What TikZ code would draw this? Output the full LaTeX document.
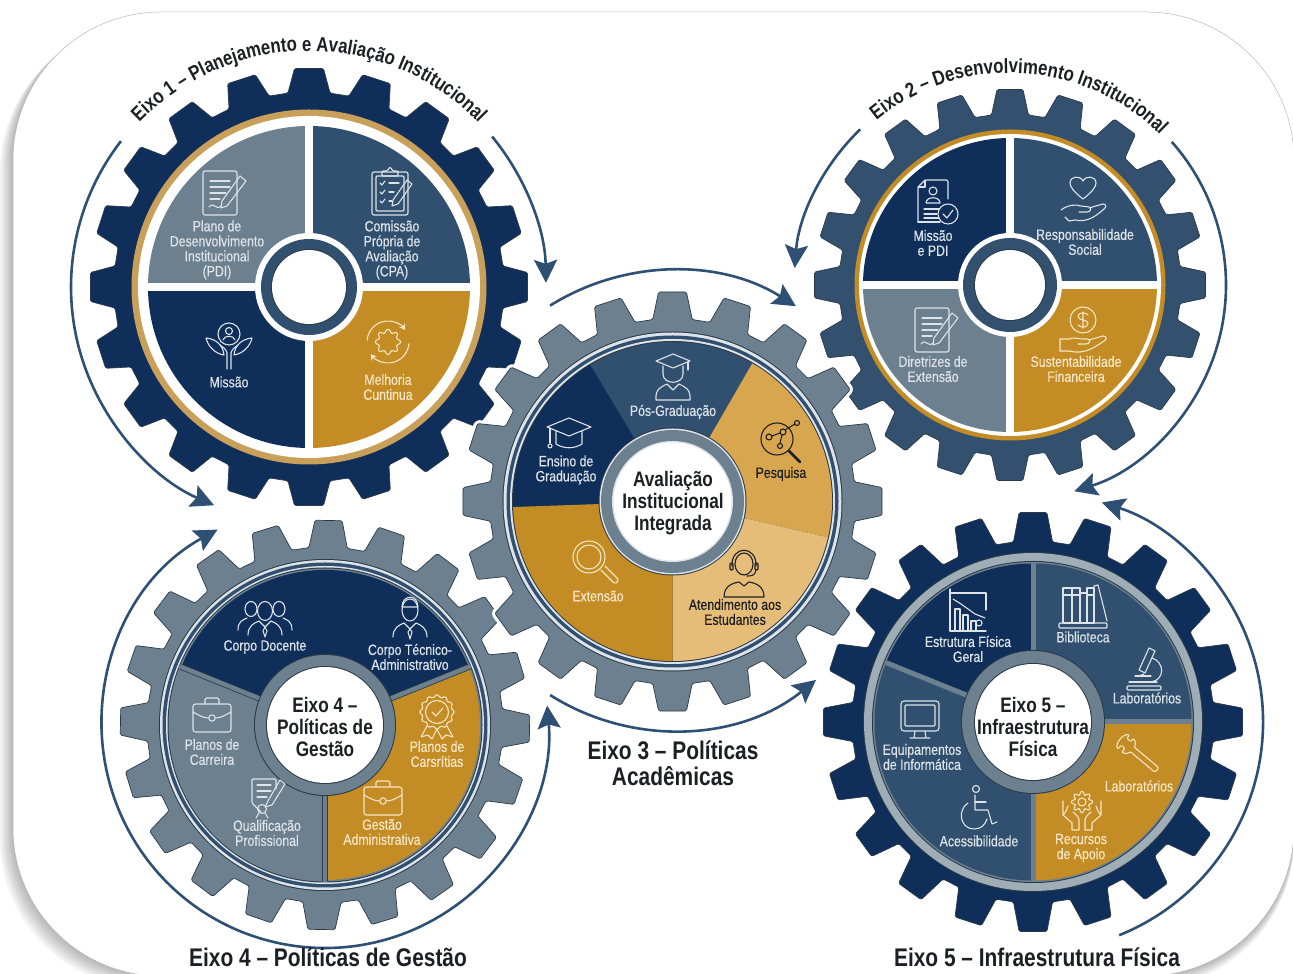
\documentclass[tikz,border=0pt]{standalone}
\usepackage{fontspec}
\setmainfont[FakeStretch=0.82]{Liberation Sans}
\newfontfamily\medfam[FakeStretch=0.82,FakeBold=0.45]{Liberation Sans}
\usetikzlibrary{arrows.meta,decorations.text}
\definecolor{navy}{HTML}{0F2E59}
\definecolor{steel}{HTML}{31506F}
\definecolor{slate}{HTML}{34506F}
\definecolor{greyb}{HTML}{6C808F}
\definecolor{gold}{HTML}{C48C24}
\definecolor{goldb}{HTML}{D9A650}
\definecolor{goldc}{HTML}{E6BD78}
\definecolor{ringg}{HTML}{C9A05A}
\definecolor{edge}{HTML}{2B3A48}
\definecolor{ink}{HTML}{1C2024}
\definecolor{arrowc}{HTML}{2F5075}
\definecolor{lite}{HTML}{DDE3E8}
\definecolor{creme}{HTML}{F4E6C6}
\newcommand{\lblfont}{\medfam\fontsize{15}{15}\selectfont}
\newcommand{\arcfont}{\bfseries\fontsize{20.5}{22}\selectfont}
\newcommand{\hubfont}{\bfseries\fontsize{21}{22}\selectfont}
\newcommand{\capfont}{\bfseries\fontsize{25.5}{26}\selectfont}
\newcommand{\gearbody}[4]{%
  \draw[#4] ({#3-6.2}:#2) -- ({#3-3.8}:#1) -- ({#3+3.8}:#1) -- ({#3+6.2}:#2)
  \foreach \k [evaluate=\k as \a using #3+18*\k] in {1,...,19}
    { -- ({\a-6.2}:#2) -- ({\a-3.8}:#1) -- ({\a+3.8}:#1) -- ({\a+6.2}:#2) } -- cycle;}
\newcommand{\sect}[4]{\fill[#4] (0,0) -- (#1:#3) arc[start angle=#1,end angle=#2,radius=#3] -- cycle;}
\newcommand{\divd}[3]{\draw[#3] (0,0) -- (#1:#2);}
\tikzset{
  gearshape/.style={fill=#1,draw=edge,line width=.7pt,rounded corners=1.5pt,line join=round},
  halo/.style={draw=white,line width=7pt,rounded corners=1.5pt,line join=round},
  flow/.style={draw=arrowc,line width=2.6pt,-{Stealth[length=23pt,width=23pt,inset=4pt]}},
  flowboth/.style={draw=arrowc,line width=2.6pt,{Stealth[length=23pt,width=23pt,inset=4pt]}-{Stealth[length=23pt,width=23pt,inset=4pt]}},
  lbl/.style={align=center,font=\lblfont,inner sep=0pt,text=#1},
  hubtxt/.style={align=center,font=\hubfont,inner sep=0pt,text=ink},
  captxt/.style={align=center,font=\capfont,inner sep=0pt,text=ink},
  icon/.style={color=#1,line width=1.1pt,line cap=round,line join=round},
  pics/docpen/.style={code={
    \draw[rounded corners=2] (-20,-22) rectangle (14,22);
    \draw (-13,12) -- (7,12) (-13,6) -- (7,6) (-13,0) -- (3,0) (-13,-6) -- (-3,-6);
    \draw (-14,-14) .. controls (-9,-8) and (-7,-18) .. (-2,-13);
    \draw (-2,-15) -- (-1,-8) -- (17,17) -- (23,12) -- (4,-13) -- cycle;
  }},
  pics/clipb/.style={code={
    \draw[rounded corners=2] (-18,-23) rectangle (18,20);
    \draw[rounded corners=1] (-14,-19) rectangle (14,16);
    \draw[rounded corners=1] (-8,16) -- (-8,21) -- (-3,21) -- (0,25) -- (3,21) -- (8,21) -- (8,16) -- cycle;
    \draw (-10,9) -- (-8,7) -- (-5,11) (-10,0) -- (-8,-2) -- (-5,2) (-10,-9) -- (-8,-11) -- (-5,-7);
    \draw (-1,9) -- (9,9) (-1,0) -- (4,0) (-1,-9) -- (2,-9);
    \draw (2,-14) -- (3,-8) -- (17,12) -- (22,8) -- (8,-12) -- cycle;
  }},
  pics/carehands/.style={code={
    \draw (0,11) circle (11);
    \draw (0,14) circle (3.5);
    \draw (-6,5) .. controls (-5,10) and (5,10) .. (6,5);
    \draw (-2,-24) -- (-2,-8) .. controls (-3,-4) and (-6,-2) .. (-9,0);
    \draw (2,-24) -- (2,-8) .. controls (3,-4) and (6,-2) .. (9,0);
    \draw (-5,-10) .. controls (-13,-9) and (-21,-2) .. (-23,7) .. controls (-13,6) and (-6,0) .. (-5,-10);
    \draw (5,-10) .. controls (13,-9) and (21,-2) .. (23,7) .. controls (13,6) and (6,0) .. (5,-10);
  }},
  pics/cyclegear/.style={code={
    \draw[domain=0:360,samples=97,smooth] plot (\x:{11+1.6*cos(8*\x)}) -- cycle;
    \draw[-{Stealth[length=6pt,width=7pt]}] (175:21) arc[start angle=175,end angle=35,radius=21];
    \draw[-{Stealth[length=6pt,width=7pt]}] (-5:21) arc[start angle=-5,end angle=-145,radius=21];
  }},
  pics/docperson/.style={code={
    \draw[rounded corners=1.5] (-18,-20) -- (-18,15) -- (-11,22) -- (12,22) -- (12,3);
    \draw (-18,15) -- (-11,15) -- (-11,22);
    \draw (-18,-20) -- (4,-20);
    \draw (-3,11) circle (4);
    \draw (-10,-1) .. controls (-10,6) and (4,6) .. (4,-1) -- cycle;
    \draw (-12,-7) -- (3,-7) (-12,-12) -- (1,-12) (-12,-16) -- (3,-16);
    \draw (12,-12) circle (10);
    \draw (7,-12) -- (11,-16) -- (17,-8);
  }},
  pics/hearthand/.style={code={
    \draw (0,4) .. controls (-9,11) and (-13,16) .. (-13,20) .. controls (-13,27) and (-3,28) .. (0,22) .. controls (3,28) and (13,27) .. (13,20) .. controls (13,16) and (9,11) .. (0,4) -- cycle;
    \draw (-22,-7) .. controls (-15,-2) and (-8,-1) .. (-2,-3) -- (6,-4) .. controls (9,-5) and (8,-9) .. (4,-9) -- (-4,-9);
    \draw (6,-5) -- (20,-1) .. controls (23,-1) and (24,-4) .. (21,-6) .. controls (14,-12) and (5,-20) .. (-8,-17) -- (-14,-18) -- (-18,-14);
  }},
  pics/coinhand/.style={code={
    \draw (0,10) circle (13);
    \draw (5,15) .. controls (3,18) and (-5,18) .. (-5,13.5) .. controls (-5,9) and (5,11) .. (5,6.5) .. controls (5,2) and (-3,2) .. (-5,5) (0,2) -- (0,18);
    \draw (-23,-21) -- (-23,-9) -- (-14,-9) .. controls (-9,-7) and (-5,-9) .. (0,-9) -- (5,-9) .. controls (8,-10) and (7,-14) .. (3,-14) -- (-5,-14);
    \draw (6,-10) -- (20,-6) .. controls (24,-6) and (24,-10) .. (21,-11) .. controls (12,-17) and (2,-25) .. (-14,-21) -- (-23,-21);
  }},
  pics/gradcap/.style={code={
    \draw (-22,8) -- (0,17) -- (22,8) -- (0,-1) -- cycle;
    \draw (-13,4) -- (-13,-9) .. controls (-5,-14) and (5,-14) .. (13,-9) -- (13,4);
    \draw (-19,7) -- (-19,-8);
    \draw (-19,-11) circle (2);
  }},
  pics/graduate/.style={code={
    \draw (-17,16) -- (0,23) -- (17,16) -- (0,9) -- cycle;
    \draw (-10,11) -- (-10,3) .. controls (-10,-8) and (10,-8) .. (10,3) -- (10,11);
    \draw (15,15) -- (15,7);
    \draw (-17,-23) .. controls (-18,-12) and (-12,-10) .. (-6,-7) -- (0,-13) -- (6,-7) .. controls (12,-10) and (18,-12) .. (17,-23) -- cycle;
  }},
  pics/molmag/.style={code={
    \draw (-3,3) circle (16);
    \draw[line width=2.6pt] (9,-9) -- (20,-20);
    \draw (-11,5) circle (3) (0,-4) circle (2.5) (3,10) circle (3) (17,19) circle (2.5);
    \draw (-8,6) -- (0,9) (2,7) -- (0,-1) (5,12) -- (15,18);
  }},
  pics/magn/.style={code={
    \draw (-6,6) circle (16) (-6,6) circle (12);
    \draw[rounded corners=1.5] (6,-7) -- (20,-21) -- (24,-17) -- (10,-3);
  }},
  pics/headset/.style={code={
    \draw (0,9) ellipse (9 and 11);
    \draw (-12,7) .. controls (-13,28) and (13,28) .. (12,7);
    \draw[rounded corners=1] (-14,3) rectangle (-11,10) (11,3) rectangle (14,10);
    \draw (12,3) .. controls (11,-3) and (7,-3) .. (3,-3);
    \draw (-20,-24) .. controls (-20,-12) and (-10,-10) .. (-5,-9) -- (0,-13) -- (5,-9) .. controls (10,-10) and (20,-12) .. (20,-24) -- cycle;
  }},
  pics/team/.style={code={
    \draw (-14,9) ellipse (6 and 7.5) (14,9) ellipse (6 and 7.5);
    \draw (-27,-12) .. controls (-27,-3) and (-22,-2) .. (-18,0) (27,-12) .. controls (27,-3) and (22,-2) .. (18,0);
    \draw (0,7) ellipse (7.5 and 9.5);
    \draw (-17,-17) .. controls (-17,-8) and (-11,-5) .. (-6,-3) -- (0,-9) -- (6,-3) .. controls (11,-5) and (17,-8) .. (17,-17);
    \draw (0,-9) -- (-2,-13) -- (0,-19) -- (2,-13) -- cycle;
  }},
  pics/tieperson/.style={code={
    \draw (0,10) ellipse (8 and 11);
    \draw (-8,13) .. controls (-8,26) and (8,26) .. (8,13) -- cycle;
    \draw (-17,-17) .. controls (-17,-8) and (-11,-5) .. (-6,-3) -- (0,-9) -- (6,-3) .. controls (11,-5) and (17,-8) .. (17,-17);
    \draw (0,-9) -- (-2,-12) -- (0,-19) -- (2,-12) -- cycle;
  }},
  pics/briefc/.style={code={
    \draw[rounded corners=2.5] (-19,-17) rectangle (19,11);
    \draw[rounded corners=1.5] (-7,11) -- (-7,17) -- (7,17) -- (7,11);
    \draw (-19,3) .. controls (-12,-1) and (-8,-3) .. (-3.5,-3) (3.5,-3) .. controls (8,-3) and (12,-1) .. (19,3);
    \draw (0,-3) circle (3.2);
  }},
  pics/rosette/.style={code={
    \draw[domain=0:360,samples=145,smooth] plot (\x:{16+1.1*cos(12*\x)}) -- cycle;
    \draw (0,0) circle (11.5);
    \draw (-5,0) -- (-1,-4) -- (6,4);
    \draw (-10,-14) -- (-16,-25) -- (-9,-23) -- (-5,-27) -- (0,-17) -- (5,-27) -- (9,-23) -- (16,-25) -- (10,-14);
  }},
  pics/certpen/.style={code={
    \draw[rounded corners=1] (-7,-13) -- (-16,-4) -- (-16,20) -- (8,20) -- (8,10);
    \draw (-11,14) -- (3,14) (-11,8) -- (3,8) (-11,2) -- (-1,2);
    \draw (-3,-8) -- (0,-2) -- (12,19) -- (17,15) -- (4,-6) -- cycle;
    \draw (-6,-10) circle (4.5);
    \draw (-9,-14) -- (-12,-19) (-3,-14) -- (0,-19);
  }},
  pics/books/.style={code={
    \draw (-20,-16) rectangle (-11,19) (-11,-16) rectangle (-3,19) (-3,-16) rectangle (4,14) (4,-16) rectangle (11,19);
    \draw (11,-16) -- (11,21) -- (15,22) -- (24,-14);
    \draw (-20,12) -- (-11,12) (-11,12) -- (-3,12) (4,12) -- (11,12);
    \draw[rounded corners=1] (-24,-16) rectangle (24,-21);
  }},
  pics/micro/.style={code={
    \draw (-6,-2) -- (4,20) -- (10,17) -- (0,-5) -- cycle;
    \draw (-6,-8) -- (-1,-6);
    \draw (7,10) .. controls (20,6) and (20,-12) .. (6,-14);
    \draw (-16,-14) -- (12,-14);
    \draw[rounded corners=1] (-18,-22) rectangle (16,-18);
    \draw (-10,-8) -- (6,-8);
  }},
  pics/chartic/.style={code={
    \draw (-18,23) -- (-18,-19) -- (18,-19);
    \draw (-18,19) -- (18,19) -- (18,2);
    \draw (-13,-19) -- (-13,3) -- (-8,3) -- (-8,-19) (-5,-19) -- (-5,-3) -- (0,-3) -- (0,-19) (3,-19) -- (3,-9) -- (8,-9) -- (8,-19);
    \draw (-15,13) -- (-7,8) -- (0,3) -- (7,-2) -- (17,-6);
    \draw (11,-11) circle (3);
  }},
  pics/monitor/.style={code={
    \draw[rounded corners=3] (-19,-11) rectangle (19,19);
    \draw[rounded corners=1] (-15,-6) rectangle (15,15);
    \draw (-5,-11) -- (-6,-18) (5,-11) -- (6,-18) (-10,-18) -- (10,-18);
  }},
  pics/wheel/.style={code={
    \draw (-3,21) circle (3.5);
    \draw (-4,15) -- (-4,0) -- (9,0) -- (13,-14) -- (18,-12);
    \draw (-4,8) -- (7,8);
    \draw (-11,7) .. controls (-22,0) and (-19,-19) .. (-5,-19) .. controls (2,-19) and (6,-15) .. (8,-9);
  }},
  pics/wrench/.style={code={
    \draw[rotate=-40,rounded corners=1] (-20,5) -- (-20,9) .. controls (-26,7) and (-26,-7) .. (-20,-9) -- (-20,-4) -- (-15,-4) -- (-15,-9) .. controls (-10,-8) and (-9,-4) .. (-9,-3) -- (21,-3) .. controls (24,-3) and (24,3) .. (21,3) -- (-9,3) .. controls (-9,4) and (-10,8) .. (-15,9) -- (-15,5) -- cycle;
  }},
  pics/gearhands/.style={code={
    \begin{scope}[shift={(0,9)}]
    \draw[domain=0:360,samples=97,smooth] plot (\x:{9+1.7*cos(8*\x)}) -- cycle;
    \draw (0,0) circle (4);
    \end{scope}
    \draw (-19,10) -- (-19,-4) -- (-10,-12) -- (-10,-19) -- (-3,-19) -- (-3,-9) .. controls (-3,-6) and (-6,-4) .. (-9,-1);
    \draw (-19,-4) .. controls (-16,-1) and (-15,2) .. (-14,5);
    \draw (19,10) -- (19,-4) -- (10,-12) -- (10,-19) -- (3,-19) -- (3,-9) .. controls (3,-6) and (6,-4) .. (9,-1);
    \draw (19,-4) .. controls (16,-1) and (15,2) .. (14,5);
  }},
}
\begin{document}
\begin{tikzpicture}[x=1pt,y=1pt]
\useasboundingbox (0,0) rectangle (1293,974);
\clip (0,0) rectangle (1293,974);
% card and its shadow
\fill[white] (0,0) rectangle (1293,974);
\foreach \s in {13,11,...,1}
  \fill[black,opacity=.045,rounded corners=148pt] ({13-\s},{-2-\s*0.9}) rectangle (1294,{962-\s*0.9});
\filldraw[fill=white,draw=black!28,line width=.5pt,rounded corners=148pt] (13,-2) rectangle (1294,962);
% centres
\coordinate (g1) at (309,974-287);
\coordinate (g2) at (1010,974-285);
\coordinate (g3) at (672.5,974-501.5);
\coordinate (g4) at (325,974-725);
\coordinate (g5) at (1033,974-722);
% ---------- gear 5
\begin{scope}[shift={(g5)}]
  \gearbody{210}{181}{0}{gearshape=navy}
  \fill[edge] (0,0) circle (170);
  \fill[lite!45!greyb] (0,0) circle (169);
  \fill[edge] (0,0) circle (161);
  \fill[greyb] (0,0) circle (160);
  \sect{90}{158}{158.5}{navy}
  \sect{0}{90}{158.5}{steel}
  \sect{158}{270}{158.5}{steel}
  \sect{-90}{0}{158.5}{gold}
  \divd{90}{159}{greyb,line width=5pt}
  \divd{0}{159}{greyb,line width=5pt}
  \divd{-90}{159}{greyb,line width=5pt}
  \divd{158}{159}{greyb,line width=5pt}
  \fill[edge] (0,0) circle (72);
  \fill[greyb] (0,0) circle (71);
  \fill[edge] (0,0) circle (59);
  \fill[white] (0,0) circle (58);
\end{scope}
% ---------- gear 4
\begin{scope}[shift={(g4)}]
  \gearbody{205}{178}{-1}{gearshape=greyb}
  \fill[edge] (0,0) circle (166);
  \fill[lite] (0,0) circle (165);
  \fill[steel] (0,0) circle (162.5);
  \fill[lite] (0,0) circle (159);
  \fill[edge] (0,0) circle (157.5);
  \fill[greyb] (0,0) circle (156.5);
  \sect{22}{158}{155}{navy}
  \sect{158}{270}{155}{greyb}
  \sect{-90}{22}{155}{gold}
  \divd{22}{156}{edge,line width=6pt}
  \divd{158}{156}{edge,line width=6pt}
  \divd{-90}{156}{edge,line width=6pt}
  \divd{22}{157}{greyb,line width=4.4pt}
  \divd{158}{157}{greyb,line width=4.4pt}
  \divd{-90}{157}{greyb,line width=4.4pt}
  \fill[edge] (0,0) circle (71);
  \fill[greyb] (0,0) circle (70);
  \fill[edge] (0,0) circle (59);
  \fill[white] (0,0) circle (58);
\end{scope}
% ---------- gear 1
\begin{scope}[shift={(g1)}]
  \gearbody{219}{195}{0}{gearshape=navy}
  \fill[ringg] (0,0) circle (177.5);
  \fill[white] (0,0) circle (171);
  \sect{90}{180}{161}{greyb}
  \sect{0}{90}{161}{steel}
  \sect{180}{270}{161}{navy}
  \sect{-90}{0}{161}{gold}
  \divd{0}{163}{white,line width=8pt}
  \divd{90}{163}{white,line width=8pt}
  \divd{180}{163}{white,line width=8pt}
  \divd{270}{163}{white,line width=8pt}
  \fill[white] (0,0) circle (54);
  \fill[steel] (0,0) circle (48);
  \fill[edge] (0,0) circle (38);
  \fill[white] (0,0) circle (37);
\end{scope}
% ---------- gear 2
\begin{scope}[shift={(g2)}]
  \gearbody{196}{171}{0}{gearshape=slate}
  \fill[gold] (0,0) circle (155.5);
  \fill[white] (0,0) circle (151);
  \sect{90}{180}{147}{navy}
  \sect{0}{90}{147}{steel}
  \sect{180}{270}{147}{greyb}
  \sect{-90}{0}{147}{gold}
  \divd{0}{149}{white,line width=8pt}
  \divd{90}{149}{white,line width=8pt}
  \divd{180}{149}{white,line width=8pt}
  \divd{270}{149}{white,line width=8pt}
  \fill[white] (0,0) circle (52);
  \fill[slate] (0,0) circle (47);
  \fill[edge] (0,0) circle (36);
  \fill[white] (0,0) circle (35);
\end{scope}
% ---------- gear 3 (on top, with a white halo)
\begin{scope}[shift={(g3)}]
  \gearbody{210}{183}{0}{halo}
  \gearbody{210}{183}{0}{gearshape=greyb}
  \fill[edge] (0,0) circle (170);
  \fill[lite] (0,0) circle (169);
  \fill[steel] (0,0) circle (166);
  \fill[lite] (0,0) circle (162.5);
  \fill[edge] (0,0) circle (160.5);
  \sect{121}{182}{159.5}{navy}
  \sect{60}{121}{159.5}{steel}
  \sect{-13}{60}{159.5}{goldb}
  \sect{-90}{-13}{159.5}{goldc}
  \sect{182}{270}{159.5}{gold}
  \fill[edge] (0,0) circle (74);
  \fill[lite] (0,0) circle (73);
  \fill[greyb] (0,0) circle (71.5);
  \fill[lite] (0,0) circle (60.5);
  \fill[white] (0,0) circle (59);
\end{scope}
% ---------- arrows
\draw[flow] ([shift={(g1)}]142.2:238) arc[start angle=142.2,end angle=246.5,radius=238];
\draw[flow] ([shift={(g1)}]39.4:237) arc[start angle=39.4,end angle=1,radius=237];
\draw[flow] ([shift={(g2)}]41.5:216) arc[start angle=41.5,end angle=-72.7,radius=216];
\draw[flow] ([shift={(g2)}]133.9:216) arc[start angle=133.9,end angle=175.5,radius=216];
\draw[flow] ([shift={(g3)}]122:231) arc[start angle=122,end angle=57.7,radius=231];
\draw[flow] ([shift={(g3)}]237.7:229) arc[start angle=237.7,end angle=308.8,radius=229];
\draw[flowboth] ([shift={(g4)}]118.8:223) arc[start angle=118.8,end angle=365,radius=223];
\draw[flow] ([shift={(g5)}]-68:230) arc[start angle=-68,end angle=72.6,radius=230];
% ---------- curved titles
\path[decorate,decoration={text along path,text align=center,text color=ink,
  text={|\arcfont|Eixo 1 – Planejamento e Avaliação Institucional}}]
  ([shift={(g1)}]141:236) arc[start angle=141,end angle=39,radius=236];
\path[decorate,decoration={text along path,text align=center,text color=ink,
  text={|\arcfont|Eixo 2 – Desenvolvimento Institucional}}]
  ([shift={(g2)}]133:212) arc[start angle=133,end angle=41,radius=212];
% ---------- icons gear 1
\pic[icon=lite] at (223,974-193) {docpen};
\pic[icon=lite] at (390,974-192) {clipb};
\pic[icon=lite] at (229,974-345) {carehands};
\pic[icon=creme] at (388,974-342) {cyclegear};
% icons gear 2
\pic[icon=lite] at (936,974-202) {docperson};
\pic[icon=lite] at (1083,974-203) {hearthand};
\pic[icon=lite] at (935,974-330) {docpen};
\pic[icon=creme] at (1083,974-330) {coinhand};
% icons gear 3
\pic[icon=lite] at (569,974-435) {gradcap};
\pic[icon=lite] at (673,974-377) {graduate};
\pic[icon=ink] at (780,974-442) {molmag};
\pic[icon=creme] at (595,974-563) {magn};
\pic[icon=ink] at (744,974-573) {headset};
% icons gear 4
\pic[icon=lite] at (265,974-618) {team};
\pic[icon=lite] at (410,974-620) {tieperson};
\pic[icon=lite] at (212,974-715) {briefc};
\pic[icon=creme] at (437,974-712) {rosette};
\pic[icon=lite] at (268,974-799) {certpen};
\pic[icon=creme] at (383,974-798) {briefc};
% icons gear 5
\pic[icon=lite] at (968,974-612) {chartic};
\pic[icon=lite] at (1083,974-607) {books};
\pic[icon=lite] at (1145,974-668) {micro};
\pic[icon=lite] at (920,974-720) {monitor};
\pic[icon=lite] at (979,974-810) {wheel};
\pic[icon=creme] at (1139,974-755) {wrench};
\pic[icon=creme] at (1082,974-811) {gearhands};
% ---------- labels gear 1
\node[lbl=lite] (a1) at (217,974-250) {Plano de\\Desenvolvimento\\Institucional\\(PDI)};
\node[lbl=lite] (a2) at (392,974-250) {Comissão\\Própria de\\Avaliação\\(CPA)};
\node[lbl=lite] (a3) at (229,974-382) {Missão};
\node[lbl=creme] (a4) at (388,974-387) {Melhoria\\Cuntinua};
% labels gear 2
\node[lbl=lite] (b1) at (933,974-243) {Missão\\e PDI};
\node[lbl=lite] (b2) at (1085,974-242) {Responsabilidade\\Social};
\node[lbl=lite] (b3) at (933,974-369) {Diretrizes de\\Extensão};
\node[lbl=creme] (b4) at (1076,974-369) {Sustentabilidade\\Financeira};
% labels gear 3
\node[lbl=lite] (c1) at (566,974-470) {Ensino de\\Graduação};
\node[lbl=lite] (c2) at (673,974-412) {Pós-Graduação};
\node[lbl=ink] (c3) at (781,974-474) {Pesquisa};
\node[lbl=creme] (c4) at (598,974-596) {Extensão};
\node[lbl=ink] (c5) at (735,974-612) {Atendimento aos\\Estudantes};
\node[hubtxt] (c6) at (673,974-503) {Avaliação\\Institucional\\Integrada};
% labels gear 4
\node[lbl=lite] (d1) at (265,974-647) {Corpo Docente};
\node[lbl=lite] (d2) at (410,974-657) {Corpo Técnico-\\Administrativo};
\node[lbl=lite] (d3) at (212,974-752) {Planos de\\Carreira};
\node[lbl=creme] (d4) at (437,974-754) {Planos de\\Carsrítias};
\node[lbl=lite] (d5) at (267,974-833) {Qualificação\\Profissional};
\node[lbl=creme] (d6) at (382,974-832) {Gestão\\Administrativa};
\node[hubtxt] (d7) at (325,974-727) {Eixo 4 –\\Políticas de\\Gestão};
% labels gear 5
\node[lbl=lite] (e1) at (968,974-649) {Estrutura Física\\Geral};
\node[lbl=lite] (e2) at (1083,974-637) {Biblioteca};
\node[lbl=lite] (e3) at (1147,974-698) {Laboratórios};
\node[lbl=lite] (e4) at (922,974-757) {Equipamentos\\de Informática};
\node[lbl=lite] (e5) at (979,974-841) {Acessibilidade};
\node[lbl=creme] (e6) at (1139,974-786) {Laboratórios};
\node[lbl=creme] (e7) at (1081,974-848) {Recursos\\de Apoio};
\node[hubtxt] (e8) at (1033,974-727) {Eixo 5 –\\Infraestrutura\\Física};
% captions
\node[captxt] (f3) at (673,974-763) {Eixo 3 – Políticas\\Acadêmicas};
\node[captxt] (f4) at (328,974-957) {Eixo 4 – Políticas de Gestão};
\node[captxt] (f5) at (1037,974-957) {Eixo 5 – Infraestrutura Física};
\end{tikzpicture}
\end{document}
